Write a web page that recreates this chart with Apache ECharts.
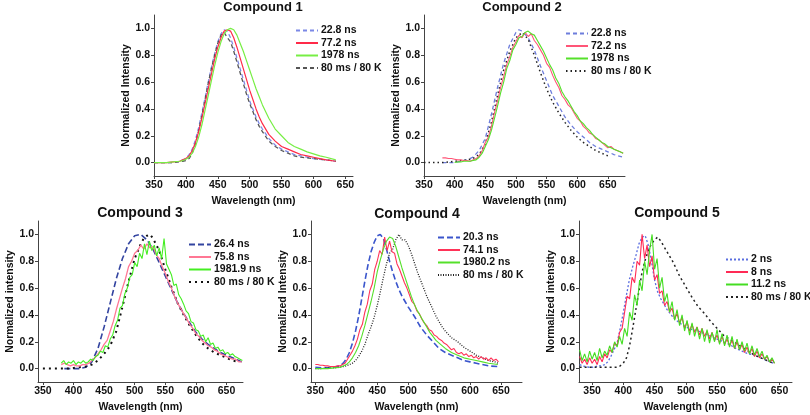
<!DOCTYPE html>
<html><head><meta charset="utf-8">
<script src="https://cdn.jsdelivr.net/npm/echarts@6/dist/echarts.min.js"></script>
<style>html,body{margin:0;padding:0;background:#fff}#c{width:810px;height:415px}</style>
</head><body><div id="c"></div>
<script>
// ---------- Panel 1 ----------
const w1 = [350,360,370,380,390,395,400,405,410,415,420,425,430,435,440,445,450,455,460,465,470,475,480,485,490,495,500,505,510,515,520,530,540,550,560,570,580,590,600,610,620,635];
const p1Blue  = [0,0,0,0,0.01,0.02,0.03,0.06,0.10,0.17,0.26,0.37,0.48,0.60,0.71,0.81,0.90,0.96,0.99,0.98,0.93,0.86,0.78,0.70,0.62,0.54,0.46,0.40,0.34,0.29,0.25,0.18,0.13,0.10,0.08,0.06,0.05,0.04,0.03,0.025,0.02,0.01];
const p1Red   = [0,0,0,0.005,0.01,0.02,0.03,0.05,0.09,0.15,0.23,0.33,0.44,0.55,0.66,0.77,0.86,0.93,0.98,0.99,0.98,0.93,0.86,0.78,0.70,0.62,0.54,0.47,0.40,0.34,0.29,0.21,0.16,0.12,0.10,0.08,0.06,0.05,0.04,0.03,0.02,0.01];
const p1Green = [0,0,0,0.005,0.01,0.015,0.025,0.04,0.07,0.12,0.19,0.28,0.39,0.50,0.61,0.72,0.82,0.90,0.96,0.99,1.0,0.99,0.95,0.89,0.83,0.76,0.69,0.62,0.55,0.49,0.43,0.33,0.25,0.20,0.15,0.12,0.10,0.08,0.065,0.05,0.04,0.02];
const p1Gray  = [0,0,0,0,0.005,0.01,0.015,0.03,0.07,0.14,0.24,0.35,0.47,0.59,0.70,0.80,0.89,0.95,0.97,0.93,0.90,0.83,0.75,0.67,0.59,0.51,0.44,0.38,0.32,0.27,0.23,0.16,0.12,0.09,0.07,0.05,0.04,0.035,0.03,0.025,0.02,0.01];

// ---------- Panel 2 ----------
const w2Blue = [380,390,400,410,420,430,440,450,460,470,480,490,500,505,510,520,530,540,550,560,570,580,590,600,610,620,630,640,650,660,675];
const p2Blue = [0,0,0,0.01,0.02,0.04,0.09,0.18,0.36,0.56,0.74,0.88,0.97,0.99,0.98,0.93,0.84,0.72,0.61,0.50,0.42,0.34,0.28,0.23,0.19,0.15,0.12,0.10,0.08,0.06,0.04];
const w2Black = [350,360,370,380,390,400,410,420,430,440,450,460,470,480,490,500,510,520,530,540,550,560,570,580,590,600,610,620,630,640,650];
const p2Black = [0,0,0,0,0.005,0.01,0.015,0.02,0.03,0.06,0.14,0.30,0.50,0.69,0.83,0.93,0.97,0.92,0.80,0.67,0.55,0.45,0.37,0.30,0.24,0.19,0.15,0.12,0.09,0.07,0.05];
const w2Red = [380,385,390,395,400,405,410,415,420,425,430,435,440,445,450,455,460,465,470,475,480,485,490,495,500,505,510,515,520,525,530,535,540,545,550,555,560,565,570,575,580,585,590,595,600,605,610,615,620,625,630,635,640,645,650,655,660,665,670,675];
const p2Red = [0.035,0.035,0.03,0.03,0.025,0.02,0.02,0.015,0.015,0.01,0.02,0.03,0.05,0.09,0.15,0.19,0.27,0.37,0.46,0.56,0.64,0.73,0.79,0.86,0.90,0.95,0.93,0.97,0.94,0.96,0.91,0.88,0.84,0.80,0.74,0.71,0.65,0.60,0.56,0.50,0.47,0.43,0.41,0.37,0.33,0.31,0.27,0.25,0.22,0.21,0.18,0.17,0.15,0.13,0.11,0.12,0.10,0.09,0.08,0.07];
const w2Green = [400,405,410,415,420,425,430,435,440,445,450,455,460,465,470,475,480,485,490,495,500,505,510,515,520,525,530,535,540,545,550,555,560,565,570,575,580,585,590,595,600,605,610,615,620,625,630,635,640,645,650,655,660,665,670,675];
const p2Green = [0,0.005,0.005,0.01,0.01,0.01,0.015,0.02,0.04,0.07,0.12,0.17,0.24,0.33,0.42,0.52,0.60,0.70,0.76,0.84,0.88,0.93,0.94,0.97,0.98,0.96,0.95,0.91,0.87,0.83,0.78,0.73,0.69,0.63,0.59,0.53,0.49,0.46,0.42,0.38,0.35,0.31,0.29,0.26,0.24,0.21,0.19,0.17,0.15,0.14,0.12,0.11,0.10,0.09,0.08,0.07];

// ---------- Panel 3 ----------
const w3Blue = [385,390,400,410,420,430,440,450,460,470,480,490,500,510,520,530,540,550,560,570,580,590,600,610,620,630,640,650,660,670,675];
const p3Blue = [0,0,0,0,0.01,0.05,0.15,0.31,0.49,0.67,0.82,0.93,0.99,1.0,0.96,0.89,0.79,0.69,0.59,0.49,0.41,0.34,0.27,0.22,0.18,0.15,0.12,0.10,0.08,0.06,0.05];
const w3Black = [350,360,370,380,390,400,410,420,430,440,450,460,470,480,490,500,510,515,520,525,530,540,550,560,570,580,590,600,610,620,630,640,650,660,670];
const p3Black = [0,0,0,0,0,0.005,0.01,0.015,0.03,0.06,0.11,0.17,0.28,0.46,0.65,0.82,0.93,0.97,0.99,1.0,0.97,0.88,0.74,0.61,0.49,0.40,0.32,0.25,0.19,0.15,0.12,0.10,0.08,0.06,0.05];
const w3Red = [380,385,390,395,400,405,410,415,420,425,430,435,440,445,450,455,460,465,470,475,480,485,490,495,500,505,510,515,520,525,530,535,540,545,550,555,560,565,570,575,580,585,590,595,600,605,610,615,620,625,630,635,640,645,650,655,660,665,670,675];
const p3Red = [0.03,0.04,0.03,0.02,0.03,0.02,0.02,0.03,0.03,0.04,0.06,0.08,0.11,0.14,0.18,0.21,0.28,0.35,0.44,0.52,0.60,0.67,0.76,0.80,0.86,0.88,0.92,0.89,0.93,0.90,0.91,0.85,0.82,0.76,0.71,0.65,0.60,0.54,0.49,0.45,0.41,0.37,0.33,0.30,0.26,0.24,0.21,0.19,0.17,0.16,0.14,0.13,0.11,0.10,0.09,0.08,0.07,0.07,0.05,0.05];
const w3Green = [380,384,388,392,396,400,404,408,412,416,420,424,428,432,436,440,444,448,452,456,460,464,468,472,476,480,484,488,492,496,500,504,508,512,516,520,524,528,532,536,540,544,548,552,556,560,564,568,572,576,580,584,588,592,596,600,604,608,612,616,620,624,628,632,636,640,644,648,652,656,660,664,668,672,676];
const p3Green = [0.04,0.06,0.03,0.05,0.04,0.06,0.03,0.05,0.04,0.06,0.04,0.05,0.07,0.06,0.09,0.10,0.13,0.12,0.17,0.16,0.22,0.25,0.32,0.36,0.45,0.47,0.56,0.60,0.68,0.70,0.79,0.76,0.86,0.82,0.93,0.85,0.95,0.88,0.92,0.84,0.90,0.82,0.97,0.78,0.74,0.70,0.62,0.63,0.55,0.52,0.48,0.43,0.41,0.35,0.34,0.29,0.28,0.24,0.25,0.20,0.23,0.18,0.19,0.15,0.16,0.13,0.14,0.11,0.12,0.10,0.11,0.09,0.08,0.07,0.06];

// ---------- Panel 4 ----------
const w4Blue = [350,360,370,380,390,395,400,405,410,415,420,425,430,435,440,445,450,455,460,465,470,475,480,485,490,495,500,510,520,530,540,550,560,570,580,590,600,610,620,630,645];
const p4Blue = [0.01,0.005,0.005,0.01,0.02,0.04,0.07,0.12,0.19,0.28,0.39,0.52,0.65,0.77,0.87,0.94,0.99,1.0,0.97,0.89,0.80,0.72,0.65,0.59,0.54,0.50,0.46,0.39,0.31,0.25,0.20,0.15,0.12,0.10,0.08,0.06,0.05,0.04,0.03,0.02,0.015];
const w4Red = [350,354,358,362,366,370,374,378,382,386,390,394,398,402,406,410,414,418,422,426,430,434,438,442,446,450,454,458,462,466,470,474,478,482,486,490,494,498,502,506,510,514,518,522,526,530,534,538,542,546,550,554,558,562,566,570,574,578,582,586,590,594,598,602,606,610,614,618,622,626,630,634,638,642,646];
const p4Red = [0.03,0.03,0.025,0.025,0.02,0.02,0.015,0.015,0.015,0.02,0.02,0.03,0.04,0.07,0.10,0.13,0.17,0.22,0.29,0.33,0.42,0.48,0.58,0.63,0.74,0.80,0.88,0.85,0.98,0.88,0.95,0.87,0.86,0.78,0.74,0.69,0.64,0.60,0.55,0.50,0.48,0.43,0.41,0.37,0.34,0.32,0.29,0.28,0.25,0.24,0.22,0.21,0.19,0.18,0.16,0.14,0.15,0.12,0.11,0.12,0.10,0.11,0.09,0.10,0.08,0.09,0.07,0.09,0.07,0.08,0.06,0.08,0.06,0.07,0.05];
const w4Green = [350,360,370,380,390,395,400,405,410,415,420,425,430,435,440,445,450,455,460,465,470,475,480,485,490,495,500,505,510,515,520,525,530,535,540,545,550,560,570,580,590,600,610,620,630,645];
const p4Green = [0,0,0,0.005,0.01,0.02,0.03,0.05,0.08,0.12,0.17,0.24,0.32,0.41,0.50,0.60,0.72,0.81,0.89,0.95,0.98,0.97,0.91,0.83,0.75,0.68,0.61,0.54,0.48,0.43,0.39,0.35,0.31,0.27,0.24,0.21,0.19,0.15,0.12,0.10,0.08,0.07,0.06,0.05,0.04,0.03];
const w4Black = [350,360,370,380,390,395,400,405,410,415,420,425,430,435,440,445,450,455,460,465,470,475,480,485,490,495,500,505,510,515,520,525,530,535,540,545,550,555,560,570,580,590,600,610,620,630,640,645];
const p4Black = [0,0,0.005,0.005,0.01,0.015,0.02,0.03,0.04,0.06,0.09,0.13,0.18,0.25,0.31,0.38,0.47,0.57,0.68,0.78,0.86,0.89,0.96,1.0,0.96,0.96,0.92,0.86,0.79,0.72,0.66,0.60,0.54,0.49,0.44,0.39,0.35,0.31,0.28,0.23,0.20,0.16,0.13,0.10,0.08,0.06,0.05,0.04];

// ---------- Panel 5 ----------
const w5Blue = [330,335,340,345,350,355,360,365,370,375,380,385,390,395,400,405,410,415,420,425,430,435,440,445,450,455,460,465,470,475,480,485,490,500,510,520,530,540,550,560,570,580,590,600,610,620,630,640];
const p5Blue = [0.03,0.02,0.015,0.01,0.01,0.015,0.02,0.02,0.03,0.05,0.09,0.14,0.19,0.30,0.42,0.55,0.67,0.76,0.84,0.93,0.98,0.99,0.92,0.80,0.66,0.57,0.52,0.48,0.44,0.41,0.38,0.36,0.34,0.31,0.29,0.28,0.26,0.24,0.22,0.20,0.18,0.15,0.13,0.11,0.10,0.08,0.06,0.04];
const w5Noisy = [330,334,338,342,346,350,354,358,362,366,370,374,378,382,386,390,394,398,402,406,410,414,418,422,426,430,434,438,442,446,450,454,458,462,466,470,474,478,482,486,490,494,498,502,506,510,514,518,522,526,530,534,538,542,546,550,554,558,562,566,570,574,578,582,586,590,594,598,602,606,610,614,618,622,626,630,634,638,642];
const p5Red = [0.09,0.04,0.07,0.03,0.08,0.04,0.07,0.03,0.09,0.05,0.11,0.08,0.14,0.12,0.19,0.17,0.27,0.30,0.42,0.54,0.52,0.68,0.64,0.80,0.77,1.0,0.82,0.92,0.76,0.84,0.66,0.70,0.56,0.58,0.47,0.50,0.42,0.45,0.37,0.41,0.34,0.38,0.30,0.35,0.28,0.33,0.27,0.31,0.25,0.30,0.24,0.28,0.22,0.27,0.21,0.25,0.19,0.24,0.18,0.22,0.17,0.21,0.15,0.20,0.14,0.18,0.12,0.16,0.11,0.15,0.09,0.13,0.08,0.11,0.07,0.09,0.05,0.07,0.04];
const p5Green = [0.14,0.06,0.11,0.05,0.13,0.07,0.12,0.06,0.15,0.08,0.13,0.10,0.17,0.12,0.20,0.16,0.24,0.18,0.30,0.24,0.42,0.36,0.55,0.47,0.66,0.58,0.80,0.70,0.88,1.0,0.74,0.82,0.60,0.68,0.50,0.56,0.42,0.50,0.36,0.44,0.32,0.40,0.28,0.36,0.25,0.34,0.24,0.31,0.22,0.30,0.20,0.29,0.19,0.27,0.20,0.29,0.18,0.26,0.17,0.25,0.16,0.24,0.15,0.22,0.14,0.20,0.13,0.19,0.11,0.17,0.10,0.15,0.09,0.13,0.07,0.10,0.05,0.08,0.04];
const w5Black = [330,340,350,360,370,380,390,395,400,405,410,415,420,425,430,435,440,445,450,455,460,465,470,475,480,485,490,495,500,510,520,530,540,550,560,570,580,590,600,610,620,630,640];
const p5Black = [0.01,0.01,0.01,0.01,0.01,0.01,0.01,0.02,0.04,0.08,0.17,0.30,0.44,0.58,0.72,0.81,0.88,0.93,0.96,0.98,0.95,0.91,0.87,0.83,0.79,0.74,0.69,0.65,0.61,0.53,0.46,0.41,0.35,0.30,0.25,0.22,0.19,0.16,0.13,0.10,0.08,0.06,0.04];

// ---------- Labels ----------
const titles = ['Compound 1','Compound 2','Compound 3','Compound 4','Compound 5'];
const legends = [
  ['22.8 ns','77.2 ns','1978 ns','80 ms / 80 K'],
  ['22.8 ns','72.2 ns','1978 ns','80 ms / 80 K'],
  ['26.4 ns','75.8 ns','1981.9 ns','80 ms / 80 K'],
  ['20.3 ns','74.1 ns','1980.2 ns','80 ms / 80 K'],
  ['2 ns','8 ns','11.2 ns','80 ms / 80 K']
];
const yNames = ['Normalized Intensity','Normalized intensity','Normalized intensity','Normalized Intensity','Normalized intensity'];
const xName = 'Wavelength (nm)';
const xTicks = [350,400,450,500,550,600,650];
const yTicks = [0,0.2,0.4,0.6,0.8,1.0];

// ---------- Layout / styles ----------
const grids = [
  {left:154, top:15, width:199, height:161},
  {left:424, top:15, width:201, height:161},
  {left:38,  top:221, width:205, height:161},
  {left:311, top:221, width:211, height:161},
  {left:579, top:221, width:213, height:161}
];
const xRanges = [[350,662],[350,678],[342,677],[343,684],[329,670]];
const titlePos = [[263,1],[522,1],[140,206],[417,207],[677,206]];
const legendPos = [[295,25],[565,28],[188,239],[437,232],[725,254]];

const data = [
  [[w1,p1Blue],[w1,p1Red],[w1,p1Green],[w1,p1Gray]],
  [[w2Blue,p2Blue],[w2Red,p2Red],[w2Green,p2Green],[w2Black,p2Black]],
  [[w3Blue,p3Blue],[w3Red,p3Red],[w3Green,p3Green],[w3Black,p3Black]],
  [[w4Blue,p4Blue],[w4Red,p4Red],[w4Green,p4Green],[w4Black,p4Black]],
  [[w5Blue,p5Blue],[w5Noisy,p5Red],[w5Noisy,p5Green],[w5Black,p5Black]]
];
const styles = [
  [{c:'#7b88e6',t:[4,3],w:1.3},{c:'#ff2a48',t:'solid',w:1.2},{c:'#77ee44',t:'solid',w:1.2},{c:'#555555',t:[4,3],w:1.3}],
  [{c:'#6d7ddc',t:[4,3],w:1.3},{c:'#ff5577',t:'solid',w:1.1},{c:'#55e02a',t:'solid',w:1.1},{c:'#222222',t:[1.5,3],w:1.5}],
  [{c:'#3344a0',t:[6,3],w:1.6},{c:'#ff7794',t:'solid',w:1.3},{c:'#44ee22',t:'solid',w:1.1},{c:'#111111',t:[2,4],w:2}],
  [{c:'#3a55cc',t:[6,3],w:1.6},{c:'#ff3358',t:'solid',w:1.1},{c:'#55e02a',t:'solid',w:1.1},{c:'#222222',t:[1,1.5],w:1.3}],
  [{c:'#5a6ee0',t:[2,2],w:1.3},{c:'#ff2a55',t:'solid',w:1.1},{c:'#44dd22',t:'solid',w:1.1},{c:'#222222',t:[2,3],w:1.5}]
];

const font = 'Liberation Sans, Arial, sans-serif';
const option = {
  animation:false,
  backgroundColor:'#fff',
  title: titles.map((t,i)=>({text:t, left:titlePos[i][0], top:titlePos[i][1], textAlign:'center', padding:0,
    textStyle:{fontFamily:font, fontWeight:'bold', fontSize: i<2?13:14, color:'#111'}})),
  legend: legends.map((names,i)=>({
    orient:'vertical', left:legendPos[i][0], top:legendPos[i][1], padding:0,
    data: names.map((n,j)=>i+'|'+n),
    formatter: n=>n.split('|')[1],
    itemWidth:22, itemHeight:10, itemGap:1.5, selectedMode:false,
    itemStyle:{opacity:0},
    textStyle:{fontFamily:font, fontWeight:'bold', fontSize:10.5, lineHeight:10, color:'#111', padding:[0,0,0,-2]}
  })),
  grid: grids.map(g=>Object.assign({containLabel:false}, g)),
  xAxis: grids.map((g,i)=>({
    type:'value', gridIndex:i, min:xRanges[i][0], max:xRanges[i][1],
    name:xName, nameLocation:'middle', nameGap:20,
    nameTextStyle:{fontFamily:font, fontWeight:'bold', fontSize:10.5, color:'#111'},
    axisLine:{show:true, onZero:false, lineStyle:{color:'#444', width:1}},
    axisTick:{show:true, inside:false, length:3, customValues:xTicks, lineStyle:{color:'#444'}},
    axisLabel:{customValues:xTicks, fontFamily:font, fontWeight:'bold', fontSize:10.5, color:'#111', margin:4},
    splitLine:{show:false}
  })),
  yAxis: grids.map((g,i)=>({
    type:'value', gridIndex:i, min:-0.1, max:1.1,
    name:yNames[i], nameLocation:'middle', nameGap:22,
    nameTextStyle:{fontFamily:font, fontWeight:'bold', fontSize:10.5, color:'#111'},
    axisLine:{show:true, lineStyle:{color:'#444', width:1}},
    axisTick:{show:true, inside:false, length:3, customValues:yTicks, lineStyle:{color:'#444'}},
    axisLabel:{customValues:yTicks, formatter:v=>v.toFixed(1), fontFamily:font, fontWeight:'bold', fontSize:10.5, color:'#111', margin:4},
    splitLine:{show:false}
  })),
  series: []
};
data.forEach((panel,i)=>{
  panel.forEach((d,j)=>{
    const s = styles[i][j];
    option.series.push({
      type:'line', name:i+'|'+legends[i][j], xAxisIndex:i, yAxisIndex:i,
      data:d[0].map((x,k)=>[x,d[1][k]]),
      showSymbol:false, symbol:'none', smooth:false, z: j===1?3:(j===2?4:2),
      lineStyle:{color:s.c, type:s.t, width:s.w}, itemStyle:{color:s.c}
    });
  });
});
const chart = echarts.init(document.getElementById('c'), null, {renderer:'canvas'});
chart.setOption(option);
</script></body></html>
